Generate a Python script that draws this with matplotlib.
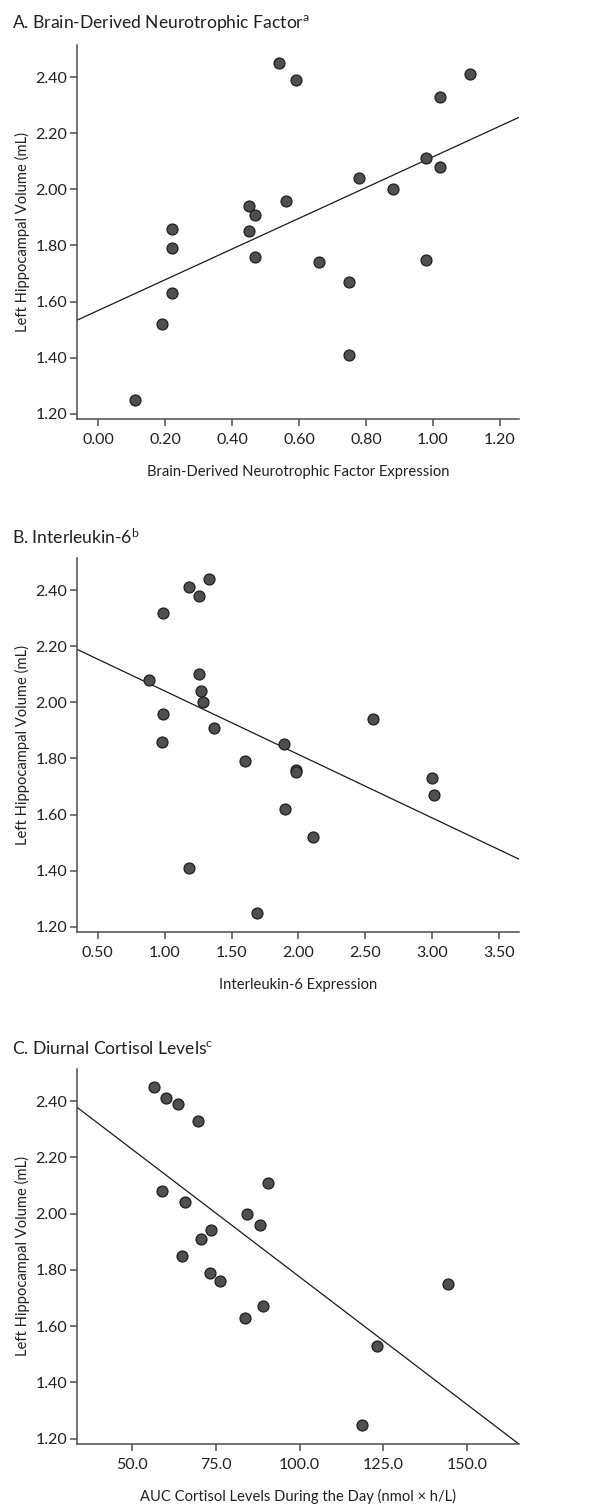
import numpy as np
import matplotlib
matplotlib.use("Agg")
import matplotlib.pyplot as plt

# ----------------------------
# Data
# ----------------------------
bdnf_x = [0.54, 0.59, 1.11, 1.02, 0.98, 1.02, 0.78, 0.88, 0.56, 0.45, 0.47,
          0.45, 0.22, 0.22, 0.47, 0.66, 0.75, 0.98, 0.22, 0.19, 0.75, 0.11]
bdnf_y = [2.45, 2.39, 2.41, 2.33, 2.11, 2.08, 2.04, 2.00, 1.96, 1.94, 1.91,
          1.85, 1.86, 1.79, 1.76, 1.74, 1.67, 1.75, 1.63, 1.52, 1.41, 1.25]

il6_x = [1.33, 1.18, 1.26, 0.99, 0.88, 1.26, 1.27, 1.29, 0.99, 1.37, 0.98,
         1.60, 1.89, 1.98, 1.98, 2.56, 3.00, 3.01, 1.90, 2.11, 1.18, 1.69]
il6_y = [2.44, 2.41, 2.38, 2.32, 2.08, 2.10, 2.04, 2.00, 1.96, 1.91, 1.86,
         1.79, 1.85, 1.76, 1.75, 1.94, 1.73, 1.67, 1.62, 1.52, 1.41, 1.25]

cort_x = [56.4, 60.2, 63.7, 69.7, 59.0, 65.6, 90.5, 84.3, 88.2, 73.4, 70.4,
          65.0, 73.2, 76.3, 88.9, 83.6, 144.3, 123.0, 118.7]
cort_y = [2.45, 2.41, 2.39, 2.33, 2.08, 2.04, 2.11, 2.00, 1.96, 1.94, 1.91,
          1.85, 1.79, 1.76, 1.67, 1.63, 1.75, 1.53, 1.25]

y_ticks = [1.20, 1.40, 1.60, 1.80, 2.00, 2.20, 2.40]

panels = [
    dict(x=bdnf_x, y=bdnf_y, title="A. Brain-Derived Neurotrophic Factor", sup="a",
         xlabel="Brain-Derived Neurotrophic Factor Expression",
         xticks=[0.0, 0.2, 0.4, 0.6, 0.8, 1.0, 1.2], xlim=(-0.063, 1.257), fmt="{:.2f}",
         rect=[0.1273, 0.7218, 0.7306, 0.2483], title_y=0.9847),
    dict(x=il6_x, y=il6_y, title="B. Interleukin-6", sup="b",
         xlabel="Interleukin-6 Expression",
         xticks=[0.5, 1.0, 1.5, 2.0, 2.5, 3.0, 3.5], xlim=(0.346, 3.647), fmt="{:.2f}",
         rect=[0.1273, 0.3813, 0.7306, 0.2481], title_y=0.6434),
    dict(x=cort_x, y=cort_y, title="C. Diurnal Cortisol Levels", sup="c",
         xlabel="AUC Cortisol Levels During the Day (nmol \u00d7 h/L)",
         xticks=[50, 75, 100, 125, 150], xlim=(33.5, 165.5), fmt="{:.1f}",
         rect=[0.1273, 0.0414, 0.7306, 0.2488], title_y=0.3041),
]

plt.rcParams["font.family"] = ["Lato", "DejaVu Sans"]
plt.rcParams["mathtext.fontset"] = "custom"
plt.rcParams["mathtext.rm"] = "Lato"
plt.rcParams["mathtext.it"] = "Lato"

text_col = "#231f20"
axis_col = "#4d4d4d"

fig = plt.figure(figsize=(6.05, 15.06), dpi=100)

for p in panels:
    ax = fig.add_axes(p["rect"])
    ax.scatter(p["x"], p["y"], s=62, color="#4f4f4f", edgecolor="#1e1e1e",
               linewidth=0.9, zorder=3)

    # least squares fit line across the whole x range
    slope, icpt = np.polyfit(p["x"], p["y"], 1)
    xx = np.array(p["xlim"])
    ax.plot(xx, icpt + slope * xx, color="#1a1a1a", linewidth=0.9, zorder=2)

    ax.set_xlim(*p["xlim"])
    ax.set_ylim(1.182, 2.514)
    ax.set_xticks(p["xticks"])
    ax.set_xticklabels([p["fmt"].format(v) for v in p["xticks"]])
    ax.set_yticks(y_ticks)
    ax.set_yticklabels(["{:.2f}".format(v) for v in y_ticks])

    for side in ["top", "right"]:
        ax.spines[side].set_visible(False)
    for side in ["left", "bottom"]:
        ax.spines[side].set_color(axis_col)
        ax.spines[side].set_linewidth(1.1)
    ax.tick_params(direction="out", length=5, width=1.1, color=axis_col,
                   labelsize=11.5, labelcolor=text_col, pad=2)
    ax.tick_params(axis="x", pad=5)

    ax.set_xlabel(p["xlabel"], fontsize=10.6, color=text_col, va="center")
    ax.xaxis.set_label_coords(0.5, -53 / 374)
    ax.set_ylabel("Left Hippocampal Volume (mL)", fontsize=10.6, color=text_col,
                  va="center")
    ax.yaxis.set_label_coords(-55 / 442, 0.5)

    fig.text(12 / 605, p["title_y"], p["title"] + r"$^{\mathrm{" + p["sup"] + "}}$",
             fontsize=12.6, color=text_col, ha="left", va="center")

fig.savefig("out.png", dpi=100, facecolor="white")
